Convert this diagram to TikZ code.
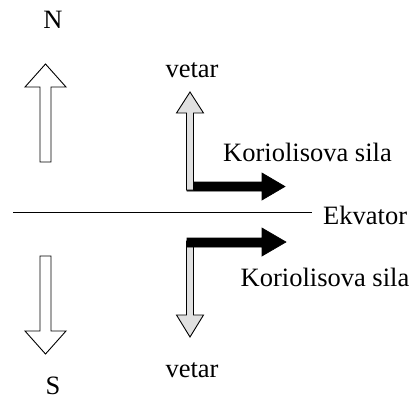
\documentclass[tikz,border=0pt]{standalone}
\usepackage{fontspec}
\setmainfont{Liberation Serif}
\begin{document}
\begin{tikzpicture}[x=1pt,y=-1pt,
  lbl/.style={inner sep=0pt,font=\fontsize{26.5}{30}\selectfont},
  hollow/.style={draw=black,fill=white,line width=0.9pt,line join=miter},
  wind/.style={draw=black,fill=black!12,line width=0.9pt,line join=miter},
  force/.style={draw=black,fill=black,line width=0.6pt,line join=miter}]
\useasboundingbox (0,0) rectangle (412,400);

% compass arrows
\draw[hollow] (40,162) -- (40,87) -- (25,87) -- (45.5,64) -- (66,87) -- (51,87) -- (51,162) -- cycle;
\draw[hollow] (40,256) -- (40,331) -- (25,331) -- (45.5,354) -- (66,331) -- (51,331) -- (51,256) -- cycle;
\node[lbl,anchor=base] (north) at (53,28) {N};
\node[lbl,anchor=base] (south) at (53,394.5) {S};

% equator
\coordinate (eqL) at (13,212);
\coordinate (eqR) at (312,212);
\draw[line width=1pt] (eqL) -- (eqR);
\node[lbl,anchor=base west] (ekv) at (323,224) {Ekvator};

% northern hemisphere: wind and Coriolis force
\draw[force] (187,182) -- (262,182) -- (262,173) -- (285,186.5) -- (262,200) -- (262,191) -- (187,191) -- cycle;
\draw[wind] (186.5,190) -- (186.5,113) -- (176.5,113) -- (190,92) -- (203.5,113) -- (193.5,113) -- (193.5,190) -- cycle;
\node[lbl,anchor=base] (windN) at (192,77) {vetar};
\node[lbl,anchor=base west] (corN) at (223,161) {Koriolisova sila};

% southern hemisphere: wind and Coriolis force
\draw[wind] (186.5,241) -- (186.5,315) -- (176.5,315) -- (190,337) -- (203.5,315) -- (193.5,315) -- (193.5,241) -- cycle;
\draw[force] (187,238) -- (262,238) -- (262,228) -- (286,242) -- (262,256) -- (262,247) -- (187,247) -- cycle;
\node[lbl,anchor=base] (windS) at (192,377) {vetar};
\node[lbl,anchor=base west] (corS) at (240.5,286) {Koriolisova sila};
\end{tikzpicture}
\end{document}
